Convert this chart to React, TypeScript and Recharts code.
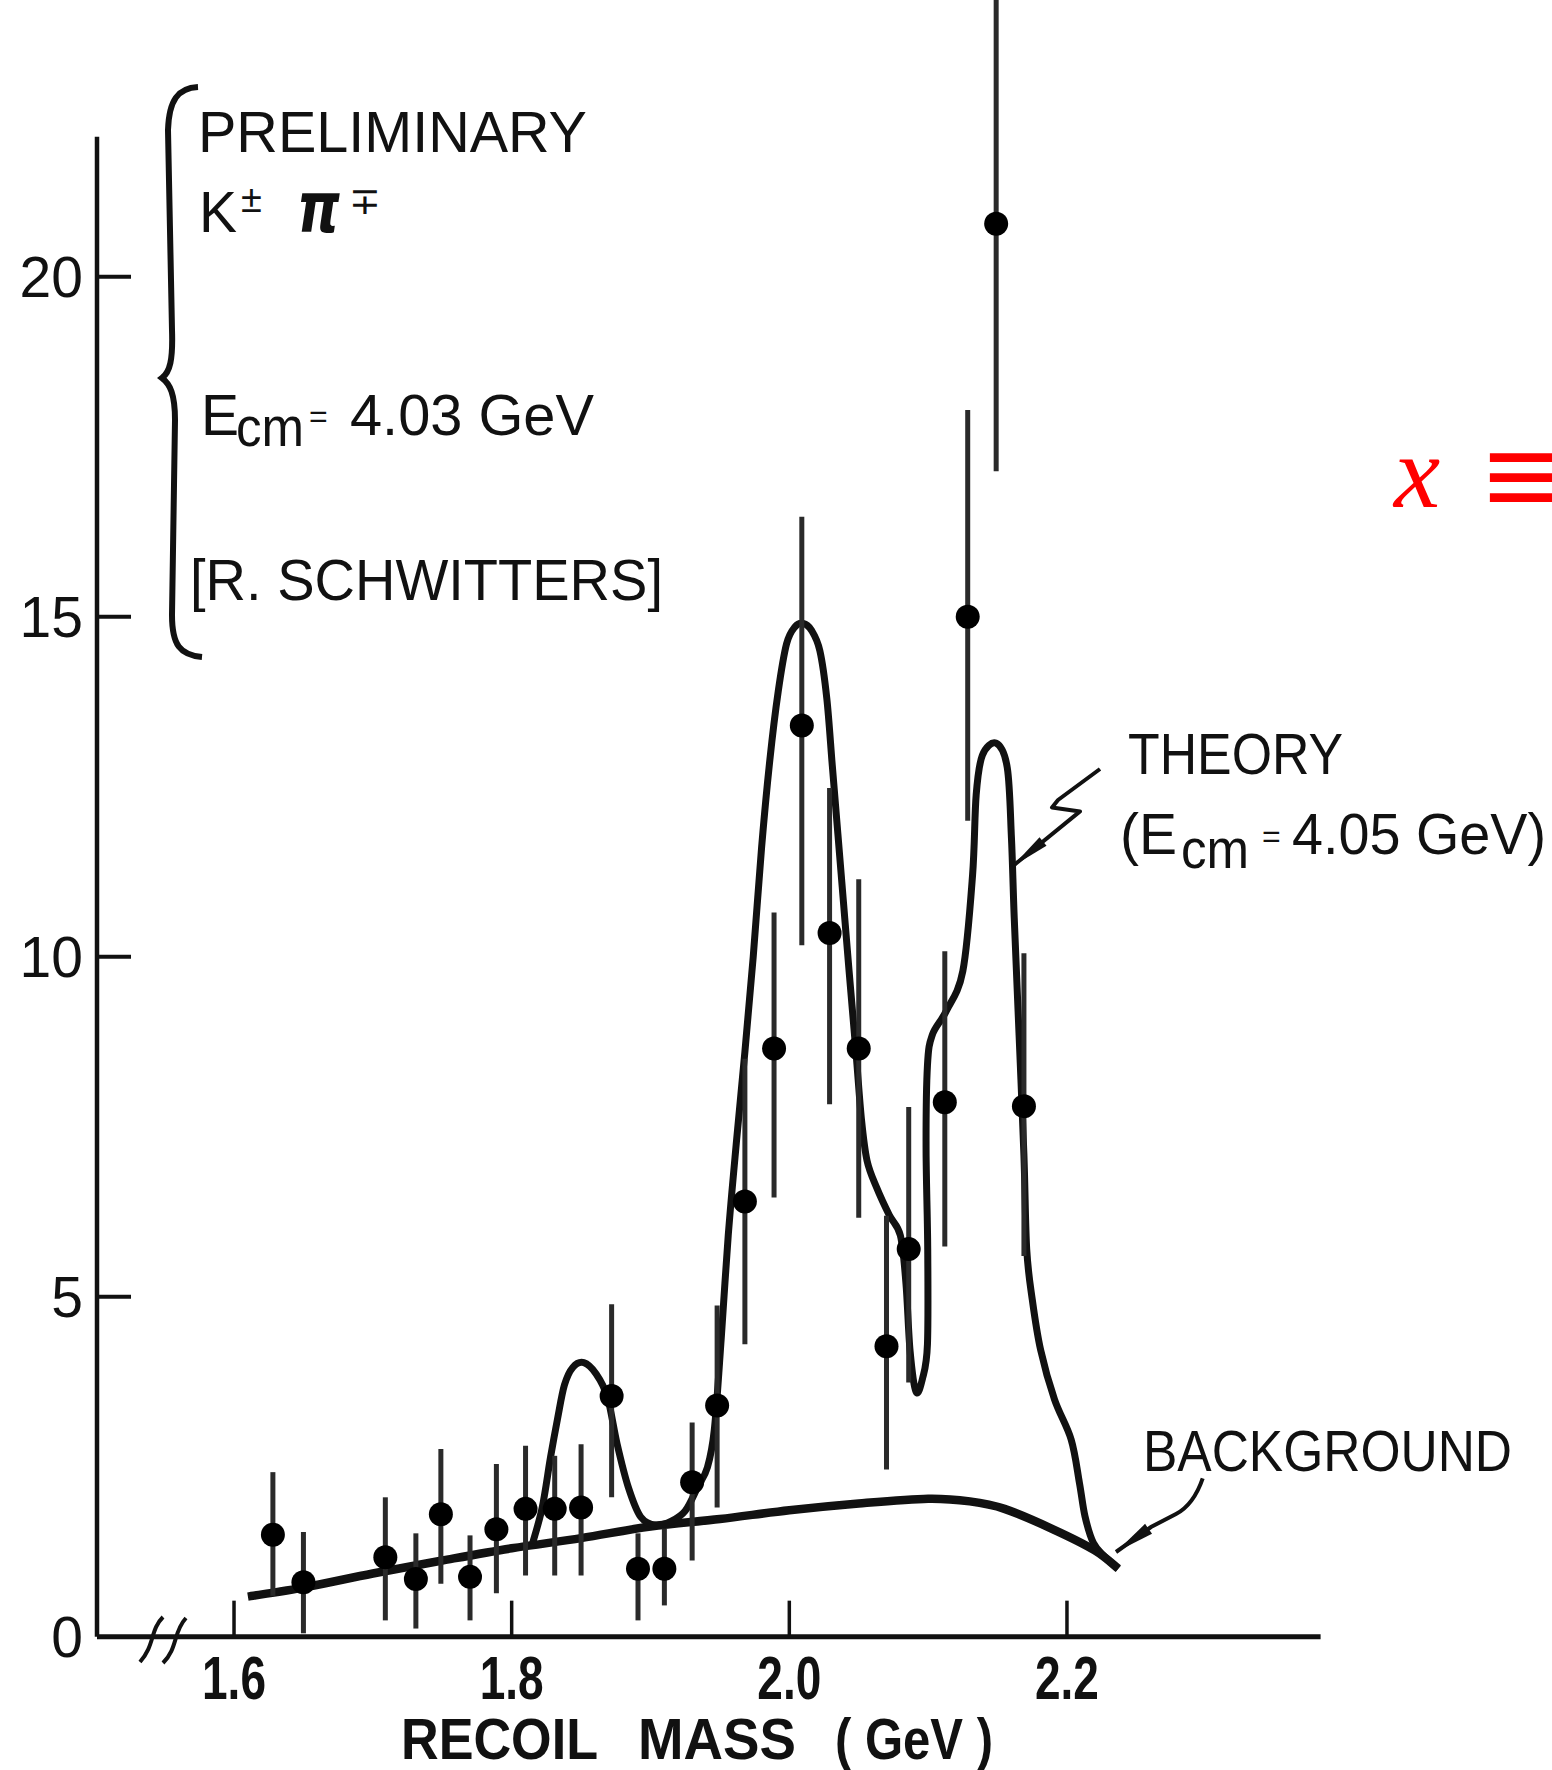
import React from 'react';
import { ComposedChart, Line, Scatter, ErrorBar, XAxis, YAxis, ReferenceLine } from 'recharts';

const W = 1552;
const H = 1770;

// axis ranges (GeV / events)
const X_DOMAIN: [number, number] = [1.5013, 2.3827];
const Y_DOMAIN: [number, number] = [0, 24.07];
const Y_AXIS_TOP = 22.06;

const massTicks = [1.6, 1.8, 2.0, 2.2];
const countTicks = [0, 5, 10, 15, 20];

// measured points with error bars
const pointMass = [1.628, 1.65, 1.709, 1.731, 1.749, 1.77, 1.789, 1.81, 1.831, 1.85, 1.872, 1.891, 1.91, 1.93, 1.948, 1.968, 1.989, 2.009, 2.029, 2.05, 2.07, 2.086, 2.112, 2.1285, 2.149, 2.169];
const pointCounts = [1.5, 0.8, 1.17, 0.85, 1.8, 0.88, 1.58, 1.88, 1.88, 1.9, 3.54, 1.0, 1.0, 2.27, 3.4, 6.4, 8.65, 13.4, 10.35, 8.65, 4.27, 5.7, 7.86, 15.0, 20.78, 7.8];
const errLow = [0.6, 0.05, 0.24, 0.12, 0.78, 0.24, 0.64, 0.9, 0.9, 0.9, 2.05, 0.24, 0.46, 1.12, 1.9, 4.3, 6.46, 10.17, 7.83, 6.16, 2.46, 3.74, 5.74, 12.0, 17.14, 5.6];
const errHigh = [2.42, 1.54, 2.05, 1.52, 2.76, 1.49, 2.54, 2.81, 2.66, 2.83, 4.89, 1.52, 1.59, 3.15, 4.87, 8.5, 10.65, 16.47, 12.48, 11.14, 6.19, 7.79, 10.08, 18.04, 24.5, 10.05];

// theory curve (E_cm = 4.05 GeV)
const theoryMass = [1.815, 1.822, 1.828, 1.833, 1.838, 1.844, 1.852, 1.861, 1.869, 1.876, 1.884, 1.893, 1.904, 1.915, 1.925, 1.934, 1.941, 1.946, 1.951, 1.956, 1.962, 1.968, 1.974, 1.98, 1.986, 1.992, 1.998, 2.004, 2.01, 2.016, 2.022, 2.027, 2.031, 2.035, 2.039, 2.043, 2.048, 2.052, 2.056, 2.063, 2.072, 2.08, 2.084, 2.087, 2.0913, 2.096, 2.0995, 2.0997, 2.0985, 2.0995, 2.103, 2.113, 2.125, 2.132, 2.1346, 2.139, 2.149, 2.157, 2.16, 2.162, 2.1655, 2.169, 2.171, 2.175, 2.181, 2.191, 2.203, 2.209, 2.213, 2.219, 2.227, 2.237];
const theoryCounts = [1.37, 1.9, 2.64, 3.2, 3.7, 3.96, 4.03, 3.86, 3.52, 2.83, 2.2, 1.76, 1.64, 1.7, 1.85, 2.2, 2.49, 3.05, 4.4, 5.9, 7.3, 8.6, 10.0, 11.6, 12.9, 13.9, 14.6, 14.85, 14.9, 14.8, 14.5, 13.8, 12.8, 11.8, 10.8, 9.8, 8.6, 7.6, 7.0, 6.6, 6.2, 5.9, 5.2, 4.2, 3.6, 3.8, 4.3, 5.7, 7.2, 8.4, 8.85, 9.2, 9.79, 11.2, 12.38, 12.96, 13.14, 12.78, 11.75, 10.58, 8.85, 7.08, 5.7, 4.96, 4.22, 3.49, 2.9, 2.26, 1.77, 1.38, 1.18, 1.0];

// background curve
const bgMass = [1.61, 1.652, 1.7, 1.75, 1.8, 1.85, 1.9, 1.95, 2.0, 2.05, 2.1, 2.13, 2.155, 2.19, 2.22, 2.237];
const bgCounts = [0.59, 0.73, 0.93, 1.12, 1.3, 1.45, 1.62, 1.73, 1.86, 1.96, 2.03, 1.99, 1.88, 1.58, 1.27, 1.0];

const points = pointMass.map((x, i) => ({
  x,
  y: pointCounts[i],
  err: [pointCounts[i] - errLow[i], errHigh[i] - pointCounts[i]],
}));
const theory = theoryMass.map((x, i) => ({ x, y: theoryCounts[i] }));
const background = bgMass.map((x, i) => ({ x, y: bgCounts[i] }));

const INK = '#111';
const SANS = "'Liberation Sans', Arial, sans-serif";
const NARROW = "'Liberation Sans Narrow', 'Liberation Sans', Arial, sans-serif";

// uniform catmull-rom, copes with the curve folding back on itself
const catmullRom = (context: any) => {
  let pts: [number, number][] = [];
  return {
    areaStart() {},
    areaEnd() {},
    lineStart() {
      pts = [];
    },
    point(x: number, y: number) {
      pts.push([x, y]);
    },
    lineEnd() {
      if (!pts.length) return;
      context.moveTo(pts[0][0], pts[0][1]);
      for (let i = 0; i < pts.length - 1; i++) {
        const p0 = pts[Math.max(i - 1, 0)];
        const p1 = pts[i];
        const p2 = pts[i + 1];
        const p3 = pts[Math.min(i + 2, pts.length - 1)];
        context.bezierCurveTo(
          p1[0] + (p2[0] - p0[0]) / 6,
          p1[1] + (p2[1] - p0[1]) / 6,
          p2[0] - (p3[0] - p1[0]) / 6,
          p2[1] - (p3[1] - p1[1]) / 6,
          p2[0],
          p2[1]
        );
      }
    },
  };
};

const MassTick = (props: any) => {
  const { x, y, payload } = props;
  return (
    <text x={x} y={y} dy="0.72em" textAnchor="middle" fontFamily={NARROW} fontWeight="bold" fontSize={62} fill={INK} textLength={64} lengthAdjust="spacingAndGlyphs">
      {Number(payload.value).toFixed(1)}
    </text>
  );
};

const Dot = (props: any) => <circle cx={props.cx} cy={props.cy} r={12} fill="#000" />;

const arrowHead = (tip: [number, number], from: [number, number], len: number, half: number) => {
  const dx = tip[0] - from[0];
  const dy = tip[1] - from[1];
  const d = Math.hypot(dx, dy);
  const ux = dx / d;
  const uy = dy / d;
  const bx = tip[0] - ux * len;
  const by = tip[1] - uy * len;
  return `${tip[0]},${tip[1]} ${bx - uy * half},${by + ux * half} ${bx + uy * half},${by - ux * half}`;
};

const Annotations = () => (
  <svg width={W} height={H} style={{ position: 'absolute', left: 0, top: 0, pointerEvents: 'none' }}>
    {/* brace */}
    <path d="M198,87 C178,88 169,100 168,130 L172,330 C173,360 170,372 162,378 C170,384 175,394 175,420 L172,615 C172,645 180,655 202,657" fill="none" stroke={INK} strokeWidth={6} />
    <g fontFamily={SANS} fill={INK}>
      <text x={198} y={152} fontSize={57} textLength={389} lengthAdjust="spacingAndGlyphs">PRELIMINARY</text>
      <text x={199} y={232} fontSize={57}>K</text>
      <text x={241} y={212} fontSize={38}>±</text>
      <text x={297} y={232} fontSize={70} fontFamily="'DejaVu Sans', sans-serif" fontStyle="italic" fontWeight="bold" textLength={43} lengthAdjust="spacingAndGlyphs">π</text>
      <text x={349} y={214} fontSize={38}>∓</text>
      <text x={201} y={435} fontSize={57}>E</text>
      <text x={236} y={446} fontSize={55} textLength={68} lengthAdjust="spacingAndGlyphs">cm</text>
      <text x={309} y={427} fontSize={32}>=</text>
      <text x={350} y={435} fontSize={57} textLength={244} lengthAdjust="spacingAndGlyphs">4.03 GeV</text>
      <text x={190} y={600} fontSize={57} textLength={473} lengthAdjust="spacingAndGlyphs">[R. SCHWITTERS]</text>

      <text x={1128} y={774} fontSize={57} textLength={215} lengthAdjust="spacingAndGlyphs">THEORY</text>
      <text x={1120} y={854} fontSize={57} textLength={57} lengthAdjust="spacingAndGlyphs">(E</text>
      <text x={1181} y={868} fontSize={55} textLength={68} lengthAdjust="spacingAndGlyphs">cm</text>
      <text x={1262} y={847} fontSize={32}>=</text>
      <text x={1292} y={854} fontSize={57} textLength={254} lengthAdjust="spacingAndGlyphs">4.05 GeV)</text>

      <text x={1143} y={1471} fontSize={57} fontFamily={NARROW} textLength={369} lengthAdjust="spacingAndGlyphs">BACKGROUND</text>

      <g fontFamily={NARROW} fontWeight="bold" fontSize={58}>
        <text x={401} y={1759} textLength={197} lengthAdjust="spacingAndGlyphs">RECOIL</text>
        <text x={638} y={1759} textLength={158} lengthAdjust="spacingAndGlyphs">MASS</text>
        <text x={835} y={1759} textLength={158} lengthAdjust="spacingAndGlyphs">( GeV )</text>
      </g>
    </g>

    {/* theory pointer with zig-zag */}
    <polyline points="1100,769 1058,800 1052,807.5 1080,811.4 1012,866.8" fill="none" stroke={INK} strokeWidth={4} strokeLinejoin="round" />
    <polygon points={arrowHead([1012, 866.8], [1080, 811.4], 40, 5.5)} fill={INK} />

    {/* background pointer */}
    <path d="M1202.7,1478.3 C1197,1495 1189,1507 1176,1514 L1151,1527 L1116,1552" fill="none" stroke={INK} strokeWidth={4} />
    <polygon points={arrowHead([1116, 1552], [1151, 1527], 40, 6)} fill={INK} />

    {/* axis break */}
    <path d="M163,1617 C150,1630 155,1645 140,1662" fill="none" stroke={INK} strokeWidth={4} />
    <path d="M186,1618 C173,1632 178,1648 163,1663" fill="none" stroke={INK} strokeWidth={4} />

    {/* red overlay from the source page */}
    <text x={1394} y={507} fontSize={104} fontFamily="'Liberation Serif', serif" fontStyle="italic" fill="#ff0000">x</text>
    <text x={1478} y={512} fontSize={110} fontFamily="'DejaVu Serif', serif" fill="#ff0000">≡</text>
  </svg>
);

export default function App() {
  const xTickLen = 0.53;
  const yTickLen = 0.0245;
  return (
    <div style={{ position: 'relative', width: W, height: H, background: '#fff' }}>
      <style>{'body{margin:0;background:#fff}'}</style>
      <ComposedChart width={W} height={H} margin={{ top: 0, right: 231.4, bottom: 0, left: 0 }}>
        <XAxis
          type="number"
          dataKey="x"
          domain={X_DOMAIN}
          allowDataOverflow
          ticks={massTicks}
          interval={0}
          tick={(p: any) => <MassTick {...p} />}
          tickLine={false}
          tickSize={0}
          tickMargin={18}
          axisLine={{ stroke: INK, strokeWidth: 5 }}
          height={133.3}
        />
        <YAxis
          type="number"
          domain={Y_DOMAIN}
          allowDataOverflow
          ticks={countTicks}
          interval={0}
          tickLine={false}
          axisLine={false}
          tickSize={0}
          tickMargin={14}
          width={97}
          tick={{ fontSize: 57, fill: INK, fontFamily: SANS }}
        />
        <ReferenceLine segment={[{ x: X_DOMAIN[0], y: 0 }, { x: X_DOMAIN[0], y: Y_AXIS_TOP }]} stroke={INK} strokeWidth={4.5} ifOverflow="visible" />
        {massTicks.map((t) => (
          <ReferenceLine key={`xt${t}`} segment={[{ x: t, y: 0 }, { x: t, y: xTickLen }]} stroke={INK} strokeWidth={3.5} ifOverflow="visible" />
        ))}
        {countTicks.slice(1).map((t) => (
          <ReferenceLine key={`yt${t}`} segment={[{ x: X_DOMAIN[0], y: t }, { x: X_DOMAIN[0] + yTickLen, y: t }]} stroke={INK} strokeWidth={4} ifOverflow="visible" />
        ))}
        <Line data={background} dataKey="y" type={catmullRom as any} stroke={INK} strokeWidth={8.5} dot={false} isAnimationActive={false} />
        <Line data={theory} dataKey="y" type={catmullRom as any} stroke={INK} strokeWidth={7} dot={false} isAnimationActive={false} />
        <Scatter data={points} dataKey="y" shape={Dot} isAnimationActive={false}>
          <ErrorBar dataKey="err" direction="y" width={0} stroke="#2a2a2a" strokeWidth={5} />
        </Scatter>
      </ComposedChart>
      <Annotations />
    </div>
  );
}
